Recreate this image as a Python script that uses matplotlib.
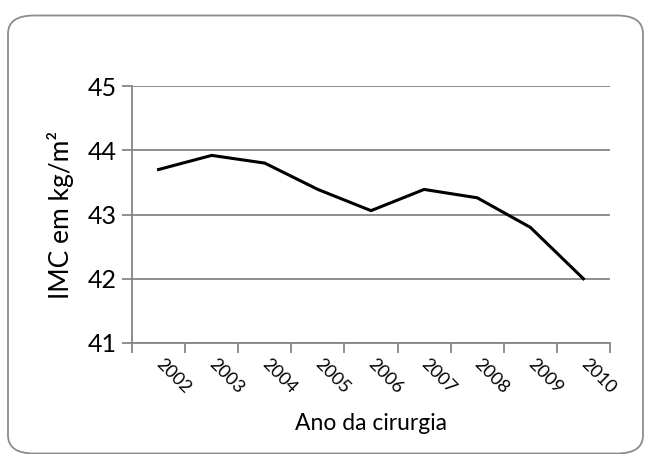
import numpy as np
import matplotlib.pyplot as plt
from matplotlib.patches import FancyBboxPatch

# dados
anos = ['2002', '2003', '2004', '2005', '2006', '2007', '2008', '2009', '2010']
imc = [43.70, 43.92, 43.80, 43.39, 43.06, 43.39, 43.26, 42.80, 42.00]
y_ticks = [41, 42, 43, 44, 45]

plt.rcParams['font.family'] = ['Lato', 'DejaVu Sans']

fig = plt.figure(figsize=(6.52, 4.54), dpi=100)
ax = fig.add_axes([132 / 652, 1 - 343 / 454, (610 - 132) / 652, (343 - 86) / 454])

# moldura arredondada do gráfico
frame = FancyBboxPatch((8 / 652, 0.5 / 454), 635 / 652, 438 / 454,
                       boxstyle='round,pad=0,rounding_size=0.04',
                       transform=fig.transFigure, fill=False,
                       edgecolor='#8c8c8c', linewidth=1.3, zorder=0)
fig.patches.append(frame)

x = np.arange(len(anos)) + 0.5
ax.plot(x, imc, color='black', linewidth=2.2, solid_joinstyle='miter')

ax.set_xlim(0, len(anos))
ax.set_ylim(41, 45)
ax.set_yticks(y_ticks)
ax.yaxis.grid(True, color='#868686', linewidth=1.3)
ax.set_axisbelow(True)

for s in ['top', 'right']:
    ax.spines[s].set_visible(False)
for s in ['left', 'bottom']:
    ax.spines[s].set_color('#868686')
    ax.spines[s].set_linewidth(1.3)

ax.set_xticks(np.arange(len(anos) + 1))
ax.set_xticklabels([])
ax.set_xticks(x, minor=True)
ax.set_xticklabels(anos, minor=True, rotation=-45, ha='left', va='center',
                   rotation_mode='anchor', fontsize=13)
ax.tick_params(axis='x', which='minor', length=0, pad=13)
ax.tick_params(axis='both', which='major', length=7, color='#868686', width=1.3,
               labelsize=18)
ax.tick_params(axis='y', pad=4)

ax.set_xlabel('Ano da cirurgia', fontsize=16.5, labelpad=12)
ax.set_ylabel('IMC em kg/m²', fontsize=19, labelpad=10)

fig.savefig('out.png', dpi=100)
